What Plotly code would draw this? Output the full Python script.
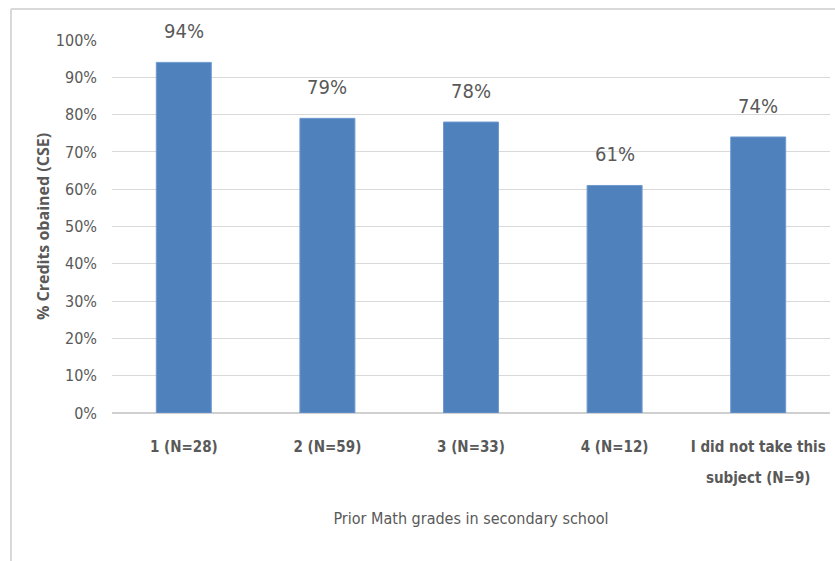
import plotly.graph_objects as go

# Share of credits obtained by prior secondary-school math grade
categories = ["1 (N=28)", "2 (N=59)", "3 (N=33)", "4 (N=12)",
              "I did not take this<br>subject (N=9)"]
credit_share = [0.94, 0.79, 0.78, 0.61, 0.74]
y_ticks = [i / 10 for i in range(11)]
y_tick_labels = [f"{i * 10}%" for i in range(11)]

NARROW = "Liberation Sans Narrow, DejaVu Sans Condensed, Arial Narrow, sans-serif"
GREY = "#595959"

# Tick text is set at 15px inside a 24px line box for wider line spacing
tick_text = [
    "<br>".join(f'<span style="font-size:15px">{part}</span>' for part in c.split("<br>"))
    for c in categories
]

fig = go.Figure(
    go.Bar(
        x=categories,
        y=credit_share,
        marker=dict(color="#4F81BD", line=dict(color="#6F9AD0", width=1)),
        hoverinfo="skip",
    )
)

# Value labels sit a little above each bar
for cat, val in zip(categories, credit_share):
    fig.add_annotation(
        x=cat, y=val, text=f"{round(val * 100)}%",
        showarrow=False, yanchor="bottom", yshift=17,
        font=dict(family=NARROW, size=20, color=GREY),
    )

# Thin frame on the left and top of the chart area
left_x = (11 - 112) / 718
top_y = 1 + (40 - 9) / 373
fig.add_shape(type="line", xref="paper", yref="paper",
              x0=left_x, x1=left_x, y0=-0.45, y1=top_y,
              line=dict(color="#D9D9D9", width=2))
fig.add_shape(type="line", xref="paper", yref="paper",
              x0=left_x, x1=1.02, y0=top_y, y1=top_y,
              line=dict(color="#D9D9D9", width=2))

fig.update_layout(
    width=835, height=561,
    margin=dict(l=112, r=5, t=40, b=148),
    paper_bgcolor="white", plot_bgcolor="white",
    bargap=0.617,
    showlegend=False,
    xaxis=dict(
        title=dict(text="Prior Math grades in secondary school",
                   font=dict(family=NARROW, size=16, color=GREY), standoff=26),
        tickmode="array", tickvals=categories, ticktext=tick_text,
        tickfont=dict(family=NARROW, size=24, color=GREY, weight="bold"),
        showgrid=False, showline=False, ticks="", ticklabelstandoff=14,
    ),
    yaxis=dict(
        range=[0, 1], tickvals=y_ticks, ticktext=y_tick_labels,
        tickfont=dict(family=NARROW, size=16, color=GREY),
        gridcolor="#D9D9D9", gridwidth=1,
        zeroline=True, zerolinecolor="#D0D0D0", zerolinewidth=2,
        showline=False, ticks="", ticklabelstandoff=14,
        title=dict(text="% Credits obained (CSE)",
                   font=dict(family="Open Sans, DejaVu Sans, sans-serif", size=16,
                             color=GREY, weight="bold"), standoff=2),
    ),
)

fig.write_html("out.html")
